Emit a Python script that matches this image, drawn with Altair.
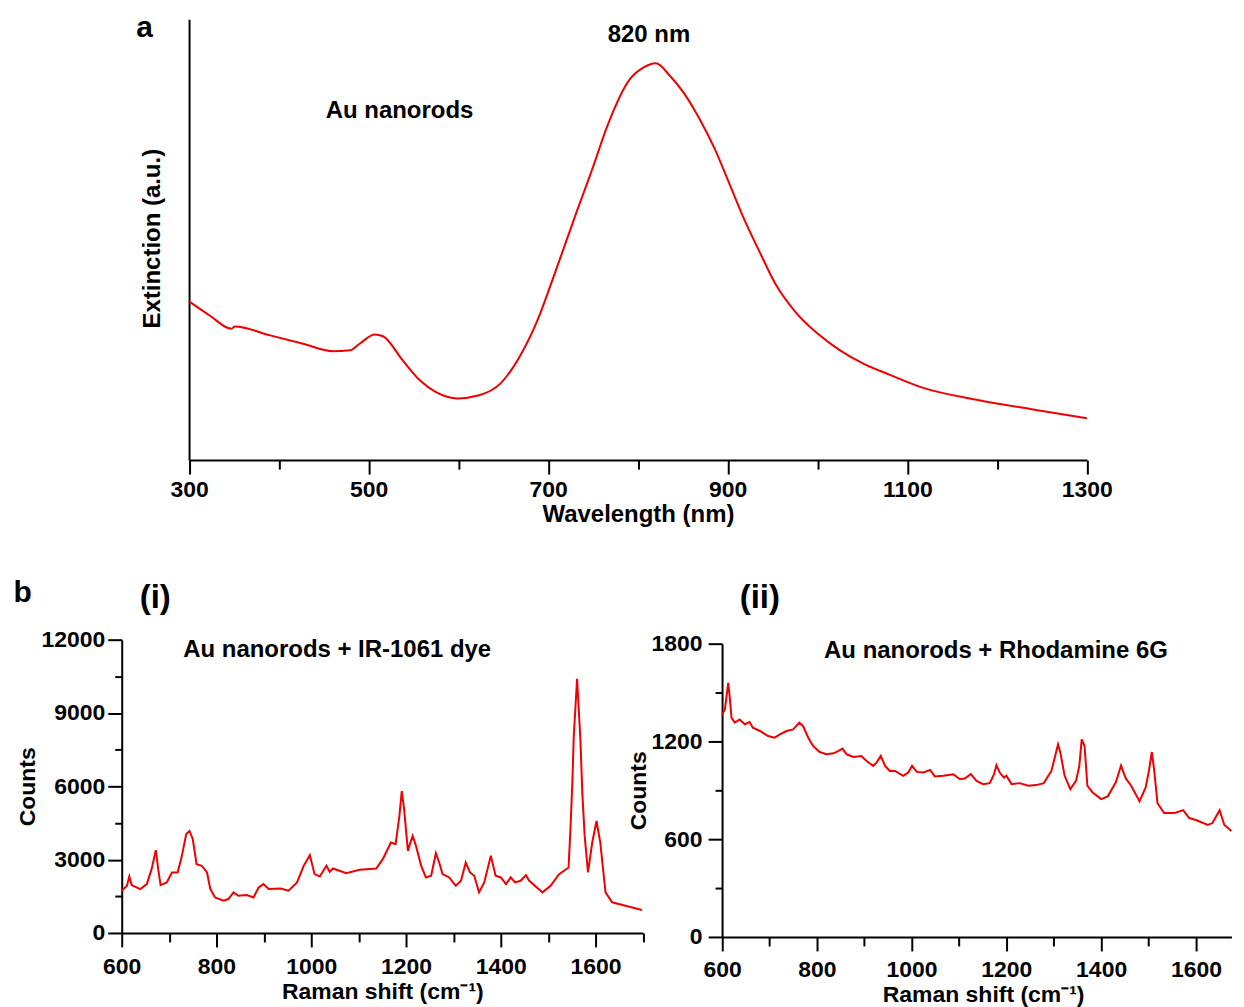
import altair as alt
import pandas as pd

# ---------------- data ----------------
# Panel a: extinction spectrum of Au nanorods (arbitrary units)
wavelength_nm = [300, 323, 347, 351, 390, 427, 460, 479, 490, 507, 516, 538, 557, 575,
                 599, 623, 647, 668, 688, 705, 731, 750, 765, 791, 805, 820, 835, 851,
                 868, 885, 902, 919, 936, 953, 975, 1000, 1025, 1051, 1080, 1116, 1180,
                 1240, 1300]
extinction = [0.360, 0.328, 0.298, 0.303, 0.283, 0.264, 0.247, 0.249, 0.264, 0.285, 0.281,
              0.226, 0.181, 0.154, 0.140, 0.147, 0.174, 0.234, 0.317, 0.410, 0.559, 0.665,
              0.753, 0.864, 0.889, 0.900, 0.873, 0.833, 0.776, 0.708, 0.626, 0.543, 0.470,
              0.400, 0.337, 0.287, 0.249, 0.219, 0.194, 0.165, 0.136, 0.115, 0.095]

# Panel b(i): Au nanorods + IR-1061 dye
shift_i = [600, 611, 616, 621, 639, 653, 663, 672, 677, 682, 695, 706, 718, 727, 736, 743,
           750, 758, 769, 780, 787, 797, 815, 825, 836, 846, 864, 878, 889, 899, 910, 935,
           952, 970, 984, 997, 1007, 1018, 1032, 1039, 1046, 1074, 1102, 1137, 1151, 1168,
           1178, 1186, 1191, 1196, 1204, 1207, 1214, 1221, 1232, 1242, 1253, 1263, 1270,
           1277, 1291, 1305, 1316, 1326, 1335, 1344, 1354, 1365, 1379, 1389, 1400, 1411,
           1421, 1430, 1442, 1453, 1460, 1488, 1505, 1523, 1543, 1547, 1551, 1554, 1561,
           1568, 1572, 1577, 1584, 1593, 1602, 1610, 1621, 1635, 1663, 1698]
counts_i = [1727, 1930, 2310, 1960, 1795, 2000, 2610, 3390, 2610, 1960, 2070, 2475, 2475,
            3155, 4040, 4175, 3835, 2815, 2750, 2475, 1795, 1455, 1320, 1387, 1660, 1523,
            1550, 1455, 1863, 2000, 1795, 1822, 1727, 2067, 2747, 3182, 2407, 2312, 2747,
            2502, 2638, 2448, 2584, 2638, 3019, 3699, 3631, 4787, 5807, 5059, 3359, 3563,
            3971, 3563, 2747, 2271, 2339, 3264, 2883, 2407, 2271, 1931, 2135, 2883, 2475,
            2339, 1659, 2067, 3155, 2339, 2271, 2000, 2271, 2067, 2135, 2366, 2135, 1660,
            1931, 2408, 2680, 4245, 6150, 8050, 10395, 7920, 5743, 3971, 2476, 3700, 4583,
            3700, 1660, 1253, 1115, 940]

# Panel b(ii): Au nanorods + Rhodamine 6G
shift_ii = [600, 606, 613, 616, 620, 627, 637, 648, 658, 665, 680, 697, 711, 722, 736, 750,
            763, 771, 782, 792, 806, 820, 835, 845, 854, 863, 877, 894, 905, 919, 926, 935,
            944, 954, 965, 982, 993, 1001, 1011, 1025, 1039, 1049, 1067, 1088, 1102, 1112,
            1125, 1137, 1151, 1165, 1174, 1179, 1186, 1195, 1200, 1211, 1228, 1246, 1263,
            1279, 1295, 1303, 1309, 1314, 1323, 1335, 1347, 1354, 1359, 1365, 1371, 1382,
            1400, 1414, 1431, 1442, 1452, 1463, 1481, 1494, 1501, 1507, 1512, 1519, 1533,
            1554, 1573, 1586, 1600, 1625, 1635, 1650, 1660, 1675]
counts_ii = [1366, 1396, 1559, 1478, 1345, 1315, 1335, 1305, 1319, 1284, 1264, 1233, 1223,
             1243, 1264, 1274, 1315, 1294, 1223, 1172, 1135, 1121, 1127, 1141, 1156, 1121,
             1105, 1111, 1080, 1050, 1070, 1111, 1050, 1019, 1019, 989, 1009, 1050, 1013,
             1009, 1025, 985, 989, 999, 968, 972, 999, 958, 938, 944, 999, 1054, 1009, 978,
             989, 938, 944, 928, 932, 944, 1019, 1111, 1182, 1131, 989, 907, 958, 1050, 1213,
             1172, 928, 887, 846, 863, 949, 1052, 973, 930, 833, 918, 1022, 1135, 1022, 821,
             760, 760, 778, 730, 718, 687, 699, 778, 687, 650]

x_ticks_a = list(range(300, 1301, 100))
x_ticks_i = list(range(600, 1701, 100))
x_ticks_ii = list(range(600, 1601, 100))
y_ticks_i = list(range(0, 12001, 1500))
y_ticks_ii = list(range(0, 1801, 300))

df_a = pd.DataFrame({"wl": wavelength_nm, "ext": extinction})
df_i = pd.DataFrame({"shift": shift_i, "counts": counts_i})
df_ii = pd.DataFrame({"shift": shift_ii, "counts": counts_ii})

# ---------------- style / layout ----------------
FONT = "Liberation Sans, Arial, Helvetica, sans-serif"
RED = "#f00000"
W, H = 1113, 920
PX_B = 0.475  # px per cm-1 in panel b


def tsize(test, major, minor):
    return {"condition": {"test": test, "value": major}, "value": minor}


def base_axis(**kw):
    d = dict(grid=False, domainColor="black", domainWidth=2, tickColor="black",
             tickWidth=2, labelFont=FONT, labelFontWeight="bold", labelColor="black",
             labelFlush=False, labelOverlap=False, titleFont=FONT,
             titleFontWeight="bold", titleColor="black", format="d")
    d.update(kw)
    return alt.Axis(**d)


# Panel a
a_x0, a_x1, a_h = 67.5, 967.5, 442
panel_a = alt.Chart(df_a).mark_line(color=RED, strokeWidth=2, interpolate="monotone").encode(
    x=alt.X("wl:Q",
            scale=alt.Scale(domain=[300, 1300], range=[a_x0, a_x1], nice=False, zero=False),
            axis=base_axis(orient="bottom", offset=a_h - H, values=x_ticks_a,
                           labelExpr="datum.value % 200 === 100 ? datum.label : ''",
                           tickSize=tsize("datum.value % 200 === 100", 14, 9),
                           labelPadding=4, labelFontSize=23,
                           title="Wavelength (nm)", titleFontSize=24,
                           titleBaseline="middle", titleY=55)),
    y=alt.Y("ext:Q",
            scale=alt.Scale(domain=[0, 1], range=[a_h, 0], nice=False, zero=False),
            axis=base_axis(orient="left", offset=-a_x0, ticks=False, labels=False,
                           title="Extinction (a.u.)", titleFontSize=24,
                           titleBaseline="middle", titleX=-36.5, titleY=219.5)),
)

# Panel b(i)
i_x1 = (1700 - 600) * PX_B
panel_i = alt.Chart(df_i).mark_line(color=RED, strokeWidth=2).encode(
    x=alt.X("shift:Q",
            scale=alt.Scale(domain=[600, 1700], range=[0, i_x1], nice=False, zero=False),
            axis=base_axis(orient="bottom", offset=-4, values=x_ticks_i,
                           labelExpr="datum.value % 200 === 0 ? datum.label : ''",
                           tickSize=tsize("datum.value % 200 === 0", 14, 9),
                           labelPadding=9, labelFontSize=23,
                           title="Raman shift (cm⁻¹)", titleFontSize=23,
                           titleBaseline="middle", titleY=59)),
    y=alt.Y("counts:Q",
            scale=alt.Scale(domain=[0, 12000], range=[916, 622], nice=False, zero=False),
            axis=base_axis(orient="left", offset=0, values=y_ticks_i,
                           labelExpr="datum.value % 3000 === 0 ? datum.label : ''",
                           tickSize=tsize("datum.value % 3000 === 0", 14, 7),
                           labelPadding=3, labelFontSize=23,
                           title="Counts", titleFontSize=23,
                           titleBaseline="middle", titleX=-94, titleY=769)),
)

# Panel b(ii)
ii_x0 = 601.8
ii_x1 = ii_x0 + (1675 - 600) * PX_B
panel_ii = alt.Chart(df_ii).mark_line(color=RED, strokeWidth=2).encode(
    x=alt.X("shift:Q",
            scale=alt.Scale(domain=[600, 1675], range=[ii_x0, ii_x1], nice=False, zero=False),
            axis=base_axis(orient="bottom", offset=0, values=x_ticks_ii,
                           labelExpr="datum.value % 200 === 0 ? datum.label : ''",
                           tickSize=tsize("datum.value % 200 === 0", 14, 9),
                           labelPadding=8, labelFontSize=23,
                           title="Raman shift (cm⁻¹)", titleFontSize=23,
                           titleBaseline="middle", titleY=58, titleX=863.5)),
    y=alt.Y("counts:Q",
            scale=alt.Scale(domain=[0, 1800], range=[920, 626], nice=False, zero=False),
            axis=base_axis(orient="left", offset=-ii_x0, values=y_ticks_ii,
                           labelExpr="datum.value % 600 === 0 ? datum.label : ''",
                           tickSize=tsize("datum.value % 600 === 0", 14, 7),
                           labelPadding=6, labelFontSize=23,
                           title="Counts", titleFontSize=23,
                           titleBaseline="middle", titleX=-83.3, titleY=773)),
)


def label(text, x, y, size, align="left", baseline="alphabetic"):
    return alt.Chart(pd.DataFrame({"t": [text]})).mark_text(
        font=FONT, fontWeight="bold", fontSize=size, color="black",
        align=align, baseline=baseline,
    ).encode(text="t:N", x=alt.value(x), y=alt.value(y))


texts = [
    label("a", 14.5, -6, 30, baseline="top"),
    label("820 nm", 528.5, 23, 24, align="center"),
    label("Au nanorods", 278.5, 99, 24, align="center"),
    label("b", -108.5, 584, 30),
    label("(i)", 18, 590, 33),
    label("(ii)", 619.5, 590, 33),
    label("Au nanorods + IR-1061 dye", 216, 639, 24, align="center"),
    label("Au nanorods + Rhodamine 6G", 876.4, 640, 24, align="center"),
]

chart = alt.layer(panel_a, panel_i, panel_ii, *texts).resolve_scale(
    x="independent", y="independent"
).resolve_axis(
    x="independent", y="independent"
).properties(
    width=W, height=H,
    padding={"left": 5, "top": 4, "right": 0, "bottom": 0},
    background="white",
).configure_view(stroke=None)

chart.save("out.html", embed_options={"renderer": "svg", "actions": False})
